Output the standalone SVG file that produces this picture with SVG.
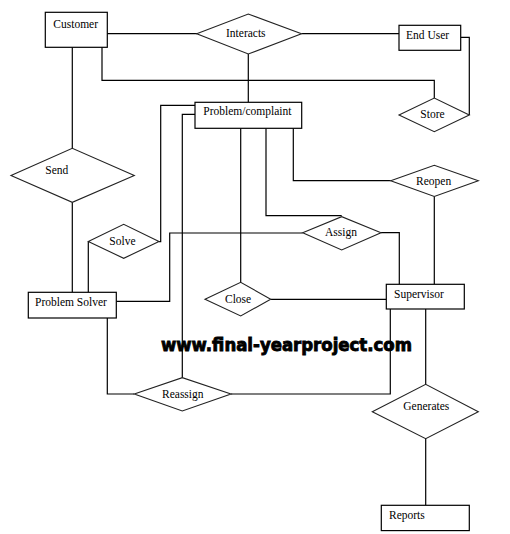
<svg xmlns="http://www.w3.org/2000/svg" width="510" height="534" viewBox="0 0 510 534">
<style>
.box{fill:#fff;stroke:#000;stroke-width:1.2}
.dia{fill:#fff;stroke:#222;stroke-width:1.1}
.ln{fill:none;stroke:#000;stroke-width:1.2}
text{font-family:"Liberation Serif","Times New Roman",serif;font-size:11.5px;fill:#000}
.wm{font-family:"DejaVu Sans",Verdana,sans-serif;font-size:18px;font-weight:bold;fill:#000;stroke:#000;stroke-width:0.9}
</style>
<rect width="510" height="534" fill="#fff"/>
<text class="wm" x="161" y="350.5" textLength="251" lengthAdjust="spacingAndGlyphs">www.final-yearproject.com</text>
<g id="connectors">
<path class="ln" d="M107,33.7H197"/>
<path class="ln" d="M301.5,33.7H399"/>
<path class="ln" d="M102,47V80.3H434.3V98"/>
<path class="ln" d="M460.7,37.3H469.3V115"/>
<path class="ln" d="M248.3,54V102.3"/>
<path class="ln" d="M72.3,47V148.3"/>
<path class="ln" d="M72.3,202.3V292.3"/>
<path class="ln" d="M195,105.3H160.7V241.7H159"/>
<path class="ln" d="M88.3,241.7V292.3"/>
<path class="ln" d="M195,114.3H182.3V377.7"/>
<path class="ln" d="M240.7,128.3V282.3"/>
<path class="ln" d="M293.3,128.3V180.7H390.7"/>
<path class="ln" d="M266,128.3V215.7H341.7"/>
<path class="ln" d="M116.3,301.3H169.7V233H302.7"/>
<path class="ln" d="M381,232.7H399.3V284.3"/>
<path class="ln" d="M434.3,196.5V284.3"/>
<path class="ln" d="M270.7,299.3H386.3"/>
<path class="ln" d="M107.3,318V394H134.3"/>
<path class="ln" d="M231,394H390.3V309"/>
<path class="ln" d="M425.7,309V384.3"/>
<path class="ln" d="M425.7,438.7V505.3"/>
</g>
<g id="customer"><rect class="box" x="45.3" y="12.3" width="62" height="35"/><text x="53.3" y="27.8">Customer</text></g>
<g id="interacts"><polygon class="dia" points="196.7,33.7 248.3,14 301.5,33.7 248.3,54"/><text x="226" y="37.3">Interacts</text></g>
<g id="enduser"><rect class="box" x="399" y="25.3" width="61.7" height="25"/><text x="406" y="38.5">End User</text></g>
<g id="store"><polygon class="dia" points="399,115 434.3,98 469.3,115 434.3,131.7"/><text x="420.3" y="118">Store</text></g>
<g id="problem"><rect class="box" x="195" y="102.3" width="106.7" height="26"/><text x="203.3" y="115.3">Problem/complaint</text></g>
<g id="send"><polygon class="dia" points="11,175.5 72.3,148.3 134.3,175.5 72.3,202.3"/><text x="45.3" y="174.2">Send</text></g>
<g id="reopen"><polygon class="dia" points="390.7,180.7 434.3,165.3 478.3,180.7 434.3,196.5"/><text x="416" y="185">Reopen</text></g>
<g id="solve"><polygon class="dia" points="88.3,241.5 123.7,224.3 159,241.5 123.7,258.3"/><text x="109.3" y="244.5">Solve</text></g>
<g id="assign"><polygon class="dia" points="302.7,232.7 341.7,216.7 381,232.7 341.7,250"/><text x="325" y="235.8">Assign</text></g>
<g id="problemsolver"><rect class="box" x="28.3" y="292.3" width="88" height="25.7"/><text x="35" y="305.5">Problem Solver</text></g>
<g id="close"><polygon class="dia" points="205,299.3 240.7,282.3 270.7,299.3 240.7,316"/><text x="225" y="302.5">Close</text></g>
<g id="supervisor"><rect class="box" x="386.3" y="284.3" width="78" height="24.7"/><text x="394" y="297.8">Supervisor</text></g>
<g id="reassign"><polygon class="dia" points="134.3,394 182.3,377.7 231,394 182.3,411"/><text x="162" y="397.5">Reassign</text></g>
<g id="generates"><polygon class="dia" points="372.3,411.7 425.7,384.3 478.3,411.7 425.7,438.7"/><text x="403.3" y="409.5">Generates</text></g>
<g id="reports"><rect class="box" x="381.3" y="505.3" width="88" height="25.3"/><text x="389" y="518.5">Reports</text></g>
</svg>
